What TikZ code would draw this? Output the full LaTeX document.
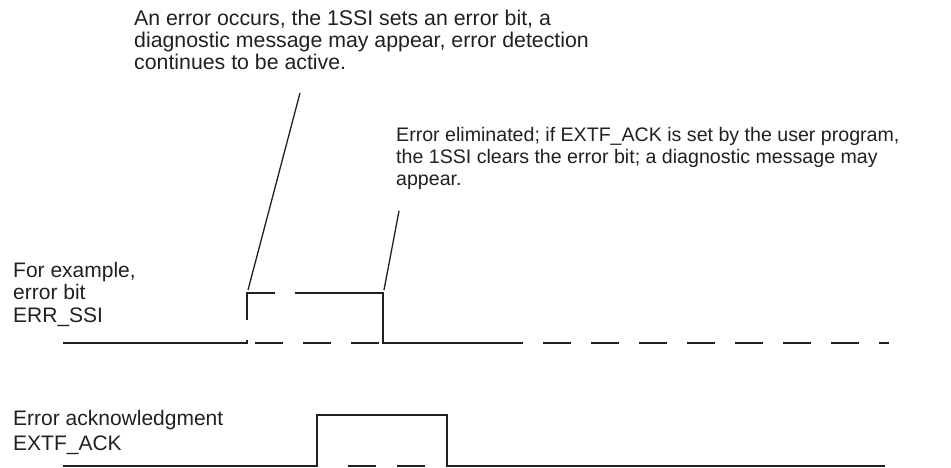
\documentclass[tikz,border=0pt]{standalone}
\usepackage{fontspec}
\setmainfont{Liberation Sans}
\usetikzlibrary{positioning}
\definecolor{ink}{HTML}{231F20}

\begin{document}
\begin{tikzpicture}[
    x=1pt, y=-1pt,
    note/.style={anchor=north west, inner sep=0pt, align=left, text=ink, font=\fontsize{21}{22.5}\selectfont},
    leader/.style={draw=ink, line width=1.3pt},
    signal/.style={draw=ink, line width=2.2pt},
    idle/.style={signal, dash pattern=on 28pt off 20pt},
]
\useasboundingbox (0,0) rectangle (951,467);

\node[note, font=\fontsize{21.3}{22}\selectfont] (occurTxt) at (134,9.5) {An error occurs, the 1SSI sets an error bit, a\\diagnostic message may appear, error detection\\continues to be active.};
\node[note, font=\fontsize{19.6}{22}\selectfont] (elimTxt) at (396,126.7) {Error eliminated; if EXTF\_ACK is set by the user program,\\the 1SSI clears the error bit; a diagnostic message may\\appear.};
\node[note] (errLbl) at (13,261.7) {For example,\\error bit\\ERR\_SSI};
\node[note, font=\fontsize{21}{25}\selectfont] (ackLbl) at (13,409.7) {Error acknowledgment\\EXTF\_ACK};

\coordinate (occurTip) at (300,93);
\coordinate (occurEnd) at (248,290);
\coordinate (elimTip) at (399,211);
\coordinate (elimEnd) at (384,290);
\draw[leader] (occurTip) -- (occurEnd);
\draw[leader] (elimTip) -- (elimEnd);

\draw[idle] (255,343) -- (889,343);
\draw[signal] (63,343) -- (247,343) -- (247,340);
\draw[signal] (247,320) -- (247,293) -- (275,293);
\draw[signal] (295,293) -- (383,293) -- (383,343) -- (500,343);

\draw[signal] (63,465.8) -- (317,465.8) -- (317,415) -- (447,415) -- (447,465.8) -- (885,465.8);
\draw[signal, dash pattern=on 28pt off 21pt] (348,465.8) -- (425,465.8);
\end{tikzpicture}
\end{document}
